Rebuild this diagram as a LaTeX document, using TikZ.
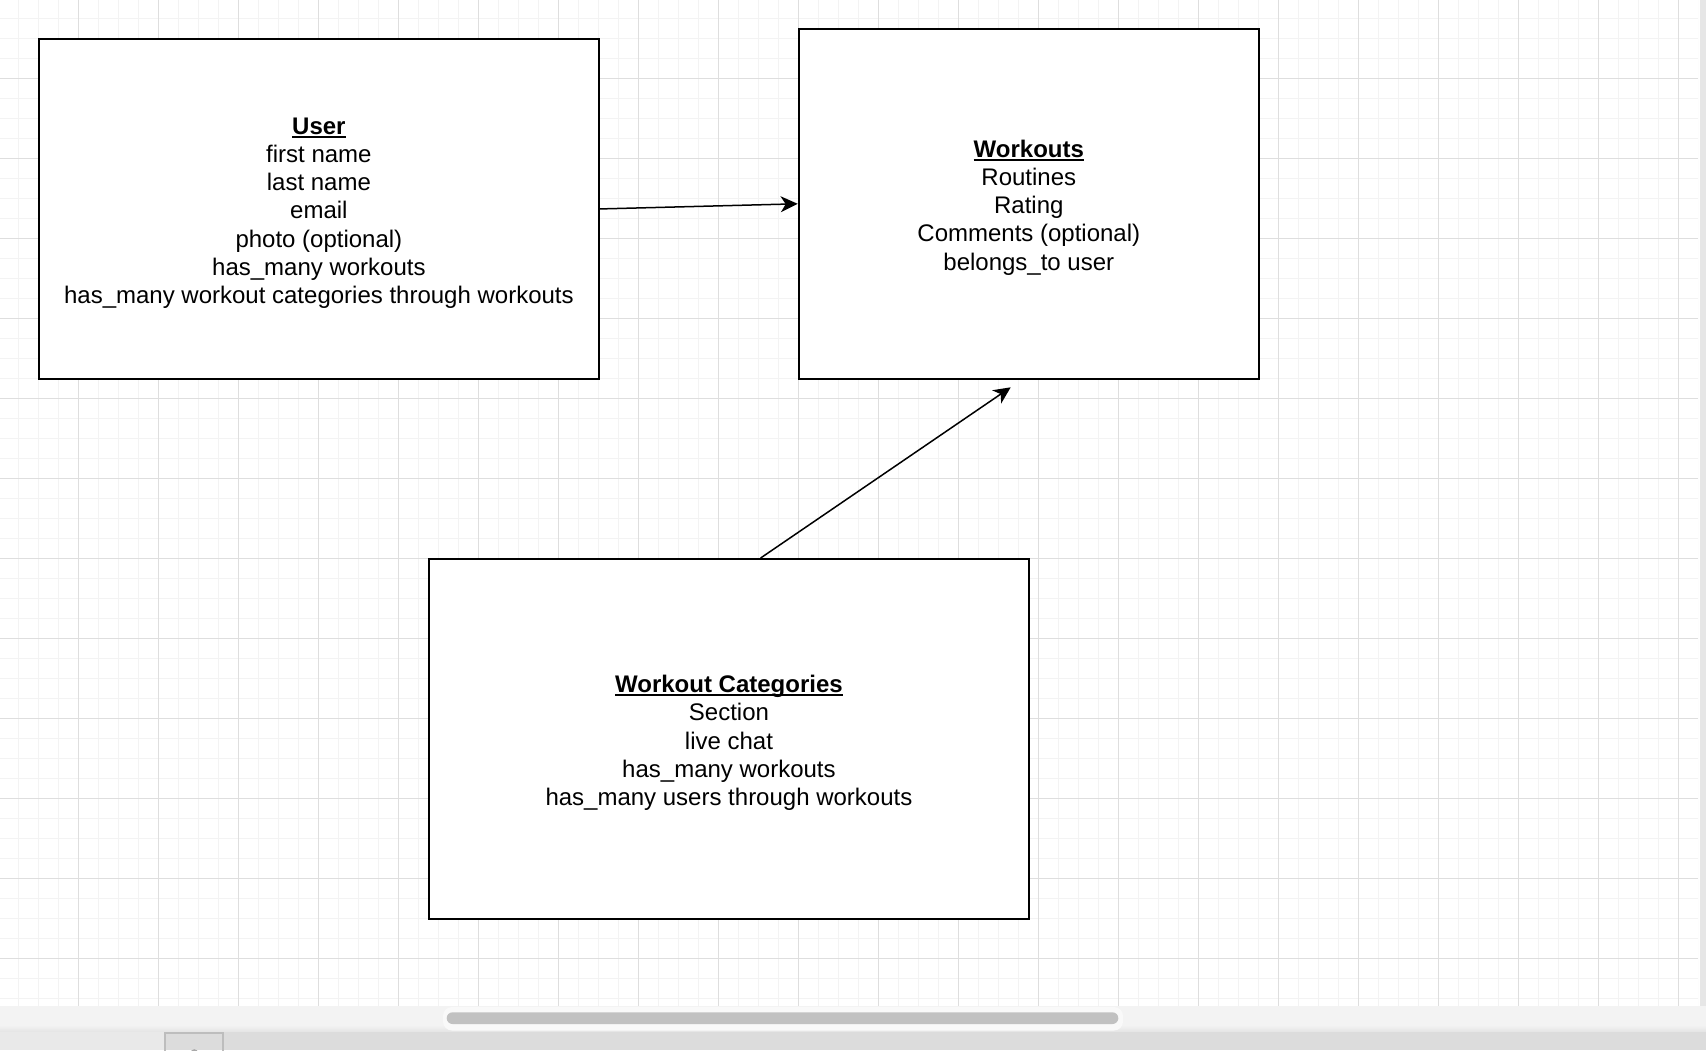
\documentclass[tikz,border=0pt]{standalone}
\usepackage{fontspec}
\setmainfont{Liberation Sans}
\usetikzlibrary{arrows.meta}
\definecolor{minorgrid}{HTML}{F3F3F3}
\definecolor{majorgrid}{HTML}{DEDEDE}
\definecolor{scrollbg}{HTML}{F3F3F3}
\definecolor{scrollshade}{HTML}{E4E4E4}
\definecolor{halo}{HTML}{F9F9F9}
\definecolor{thumbcol}{HTML}{C1C1C1}
\definecolor{barcol}{HTML}{DCDCDC}
\definecolor{barleft}{HTML}{E9E9E9}
\definecolor{tabborder}{HTML}{BDBDBD}
\definecolor{sidestrip}{HTML}{E6E6E6}
\definecolor{tabmark}{HTML}{A8A8A8}
\newsavebox\enttitlebox
\newcommand{\enttitle}[1]{\sbox\enttitlebox{\textbf{#1}}\rule{0pt}{25pt}\rlap{\rule[-3pt]{\wd\enttitlebox}{1.8pt}}\usebox\enttitlebox}
\tikzset{
  entity/.style={draw=black, line width=2pt, fill=white, inner sep=0pt,
    align=center, font=\fontsize{24}{28.1}\selectfont},
  relarrow/.style={draw=black, line width=1.5pt,
    -{Stealth[length=17pt, width=16pt, inset=5pt]}},
  minorline/.style={draw=minorgrid, line width=1.5pt},
  majorline/.style={draw=majorgrid, line width=1pt}
}
\begin{document}
\begin{tikzpicture}[x=1pt,y=-1pt]
\useasboundingbox (0,0) rectangle (1706,1050);
\fill[white] (0,0) rectangle (1706,1050);
% grid
\begin{scope}
  \clip (0,0) rectangle (1698,1006);
  \foreach \i in {0,...,85} \draw[minorline] ({-1.7+20*\i},0) -- ({-1.7+20*\i},1006);
  \foreach \j in {0,...,51} \draw[minorline] (0,{-1.7+20*\j}) -- (1698,{-1.7+20*\j});
  \foreach \i in {0,...,21} \draw[majorline] ({-1.7+80*\i},0) -- ({-1.7+80*\i},1006);
  \foreach \j in {0,...,12} \draw[majorline] (0,{-1.7+80*\j}) -- (1698,{-1.7+80*\j});
\end{scope}
\fill[sidestrip] (1700,0) rectangle (1706,1006);
% scroll area
\fill[scrollbg] (0,1006) rectangle (1706,1032);
\shade[top color=scrollbg, bottom color=scrollshade] (0,1025) rectangle (1706,1032);
\fill[halo, rounded corners=9pt] (443,1007) rectangle (1123,1030.5);
\fill[thumbcol, rounded corners=5.8pt] (446.7,1012.3) rectangle (1118.3,1024);
% bottom bar
\fill[barcol] (0,1032) rectangle (1706,1050);
\fill[barleft] (0,1032) rectangle (164,1050);
\begin{scope}
  \clip (0,0) rectangle (1706,1050);
  \fill[tabmark] (194.3,1053) circle (3.8);
\end{scope}
\draw[tabborder, line width=1.8pt] (165,1051) -- (165,1033) -- (223,1033) -- (223,1051);

% entities
\node[entity, minimum width=559.2pt, minimum height=339.3pt] (user) at (318.9,208.95)
  {\enttitle{User}\\first name\\last name\\email\\photo (optional)\\has\_many workouts\\has\_many workout categories through workouts};
\node[entity, minimum width=460.2pt, minimum height=349.4pt] (workouts) at (1028.8,203.8)
  {\enttitle{Workouts}\\Routines\\Rating\\Comments (optional)\\belongs\_to user};
\node[entity, minimum width=600.5pt, minimum height=360pt] (cats) at (728.95,739)
  {\enttitle{Workout Categories}\\Section\\live chat\\has\_many workouts\\has\_many users through workouts};

% connectors
\coordinate (tip) at (1010.7,387.3);
\draw[relarrow] (user.east) -- (workouts.west);
\draw[relarrow] ([xshift=31.7pt]cats.north) -- (tip);
\end{tikzpicture}
\end{document}
